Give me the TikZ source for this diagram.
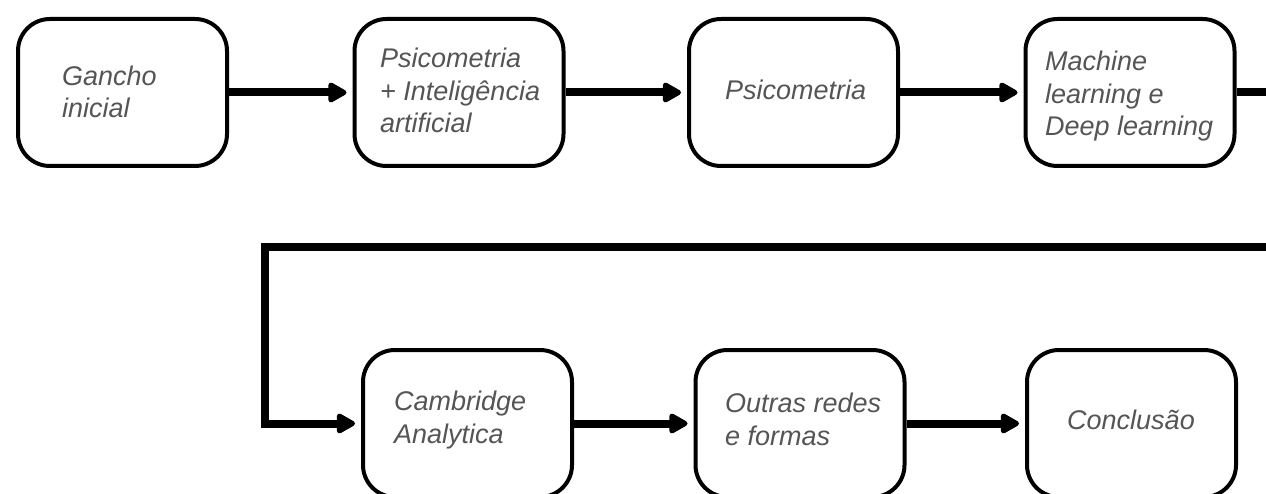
\documentclass[tikz,border=0pt]{standalone}
\usepackage{fontspec}
\setmainfont{Liberation Sans}
\usetikzlibrary{arrows.meta}
\definecolor{txtgray}{RGB}{85,85,85}
\begin{document}
\begin{tikzpicture}[x=1pt,y=-1pt,
  stepbox/.style={draw=black,line width=4pt,rounded corners=32pt,fill=white,
    minimum width=209pt,minimum height=147pt,inner sep=0pt},
  boxtext/.style={anchor=base west,inner sep=0pt,align=left,text=txtgray,
    font=\fontsize{27}{32.5}\selectfont\itshape},
  conn/.style={line width=8pt,draw=black},
  arr/.style={conn,-{Triangle[length=21pt,width=22pt,round,line width=5pt]},shorten >=6pt}]
\useasboundingbox (0,0) rectangle (1266,494);
% boxes
\node[stepbox] (b1) at (122.5,92.5) {};
\node[stepbox] (b2) at (459,92.5) {};
\node[stepbox] (b3) at (793.5,92.5) {};
\node[stepbox] (b4) at (1130,92.5) {};
\node[stepbox] (b5) at (467.5,423.5) {};
\node[stepbox] (b6) at (800,423.5) {};
\node[stepbox] (b7) at (1131.5,423.5) {};
% texts (anchored at the baseline of their last line)
\node[boxtext] (t1) at (62,118) {Gancho\\inicial};
\node[boxtext] (t2) at (380,133) {Psicometria\\+ Inteligência\\artificial};
\node[boxtext] (t3) at (725,100) {Psicometria};
\node[boxtext] (t4) at (1045,136) {Machine\\learning e\\Deep learning};
\node[boxtext] (t5) at (394,443) {Cambridge\\Analytica};
\node[boxtext] (t6) at (725,445) {Outras redes\\e formas};
\node[boxtext] (t7) at (1067,429) {Conclusão};
% connectors
\coordinate (r1) at (1266,92.5);
\coordinate (r2) at (1266,247);
\coordinate (l2) at (265,247);
\draw[arr] (b1.east) -- (b2.west);
\draw[arr] (b2.east) -- (b3.west);
\draw[arr] (b3.east) -- (b4.west);
\draw[conn] (b4.east) -- (r1);
\draw[arr] (r2) -- (l2) |- (b5.west);
\draw[arr] (b5.east) -- (b6.west);
\draw[arr] (b6.east) -- (b7.west);
\end{tikzpicture}
\end{document}
